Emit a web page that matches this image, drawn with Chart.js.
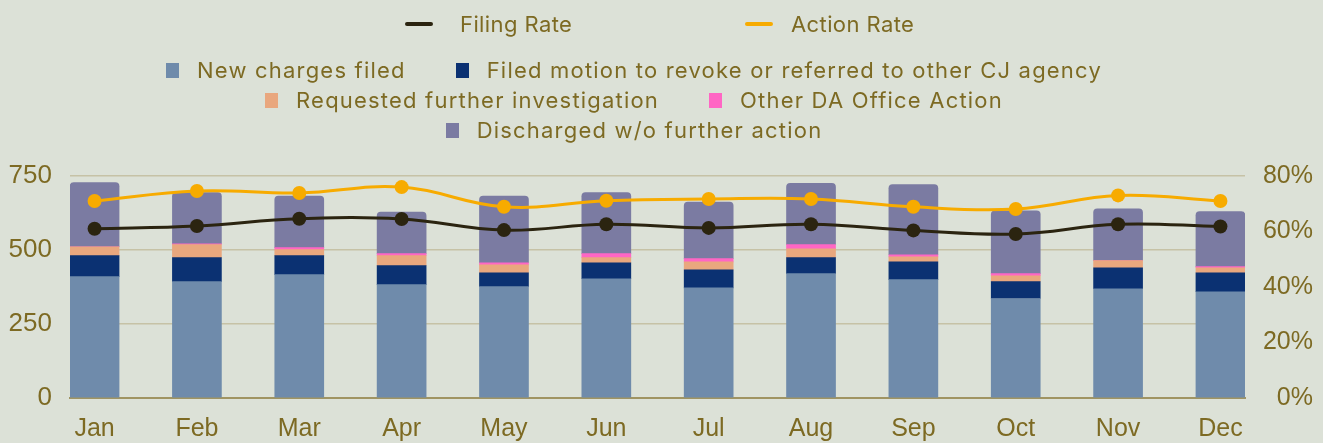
<!DOCTYPE html>
<html>
<head>
<meta charset="utf-8">
<script src="https://cdn.jsdelivr.net/npm/chart.js@4.4.1/dist/chart.umd.min.js"></script>
<style>
  html, body { margin: 0; padding: 0; background: #dce1d7; }
  #wrap { position: relative; width: 1323px; height: 443px; overflow: hidden; }
  #chart { position: absolute; left: 0; top: 0; }
  .row {
    position: absolute; height: 30px; line-height: 30px;
    display: flex; justify-content: center; align-items: center;
    font-family: Inter, "Noto Sans", sans-serif; font-size: 22px;
    letter-spacing: 1.2px; color: #7d6a23; white-space: nowrap;
  }
  .row.abs { display: block; letter-spacing: 0.4px; }
  .row.abs .item { position: absolute; top: 0; height: 30px; }
  .item { display: flex; align-items: center; }
  .sq { width: 13px; height: 15px; margin-right: 18px; }
  .ln { width: 28px; height: 4px; border-radius: 2px; }
</style>
</head>
<body>
<div id="wrap">
  <canvas id="chart" width="1323" height="443"></canvas>
  <div id="legend"></div>
</div>
<script>
// months
const months = ["Jan", "Feb", "Mar", "Apr", "May", "Jun", "Jul", "Aug", "Sep", "Oct", "Nov", "Dec"];

// bar series (cases)
const newCharges = [410, 393, 417, 383, 376, 403, 372, 420, 400, 336, 369, 359];
const motionRevoke = [71, 81, 64, 64, 47, 54, 61, 54, 60, 57, 71, 64];
const furtherInvestigation = [30, 44, 20, 34, 27, 17, 27, 30, 17, 20, 24, 17];
const otherAction = [0, 3, 7, 7, 7, 14, 11, 14, 7, 7, 0, 4];
const discharged = [217, 173, 174, 140, 225, 206, 191, 207, 237, 212, 175, 186];

// line series (percent)
const filingRate = [61.0, 62.0, 64.6, 64.5, 60.5, 62.6, 61.3, 62.6, 60.4, 59.1, 62.6, 61.8];
const actionRate = [71.0, 74.6, 73.9, 76.0, 68.9, 71.1, 71.7, 71.7, 68.9, 68.1, 73.0, 71.0];

// axis ticks
const countTicks = [0, 250, 500, 750];
const rateTicks = [0, 20, 40, 60, 80];

const textColor = "#7d6a23";
const gridColor = "#c6c2a6";

function pts(arr) {
  return arr.map((v, i) => ({ x: i, y: v }));
}

const barSets = [
  { label: "New charges filed", data: newCharges, color: "#6f8bab" },
  { label: "Filed motion to revoke or referred to other CJ agency", data: motionRevoke, color: "#0b3172" },
  { label: "Requested further investigation", data: furtherInvestigation, color: "#e9a77e" },
  { label: "Other DA Office Action", data: otherAction, color: "#ff66c4" },
  { label: "Discharged w/o further action", data: discharged, color: "#7b7ba2" }
];
const lineSets = [
  { label: "Filing Rate", data: filingRate, color: "#2b2410" },
  { label: "Action Rate", data: actionRate, color: "#f7ab00" }
];

const datasets = [];
lineSets.forEach((s) => {
  datasets.push({
    type: "line",
    label: s.label,
    data: pts(s.data),
    yAxisID: "y1",
    borderColor: s.color,
    backgroundColor: s.color,
    borderWidth: 3,
    pointRadius: 7,
    pointHoverRadius: 7,
    pointBorderWidth: 0,
    tension: 0.4,
    fill: false,
    order: 0
  });
});
barSets.forEach((s, i) => {
  const top = i === barSets.length - 1;
  datasets.push({
    type: "bar",
    label: s.label,
    data: pts(s.data),
    yAxisID: "y",
    backgroundColor: s.color,
    borderWidth: 0,
    barThickness: 49,
    stack: "cases",
    borderRadius: top ? { topLeft: 4, topRight: 4, bottomLeft: 0, bottomRight: 0 } : 0,
    borderSkipped: top ? "start" : true,
    order: 1
  });
});

new Chart(document.getElementById("chart"), {
  data: { datasets: datasets },
  options: {
    responsive: false,
    animation: false,
    devicePixelRatio: 1,
    layout: { padding: { top: 176, left: 0, right: 10, bottom: 0 } },
    plugins: { legend: { display: false }, tooltip: { enabled: false } },
    scales: {
      x: {
        type: "linear",
        min: -0.24,
        max: 11.24,
        bounds: "data",
        offset: false,
        stacked: true,
        grid: { display: false, drawTicks: false, offset: false },
        border: { display: true, color: "#a09462", width: 2 },
        afterBuildTicks: (s) => { s.ticks = months.map((m, i) => ({ value: i })); },
        ticks: {
          autoSkip: false,
          maxRotation: 0,
          padding: 16,
          color: textColor,
          font: { family: "'Liberation Sans', Arial, sans-serif", size: 25 },
          callback: (v) => months[Math.round(v)]
        },
        afterFit: (s) => { s.height = 45; }
      },
      y: {
        position: "left",
        stacked: true,
        min: countTicks[0],
        max: countTicks[countTicks.length - 1],
        grid: {
          color: (c) => (c.tick && c.tick.value === 0 ? "rgba(0,0,0,0)" : gridColor),
          lineWidth: 1.5,
          drawTicks: false
        },
        border: { display: false },
        afterBuildTicks: (s) => { s.ticks = countTicks.map((v) => ({ value: v })); },
        ticks: {
          padding: 18,
          color: textColor,
          font: { family: "'Liberation Sans', Arial, sans-serif", size: 26 }
        },
        afterFit: (s) => { s.width = 70; }
      },
      y1: {
        position: "right",
        min: rateTicks[0],
        max: rateTicks[rateTicks.length - 1],
        grid: { display: false, drawTicks: false },
        border: { display: false },
        afterBuildTicks: (s) => { s.ticks = rateTicks.map((v) => ({ value: v })); },
        ticks: {
          padding: 6,
          crossAlign: "far",
          color: textColor,
          font: { family: "'Liberation Sans', Arial, sans-serif", size: 25 },
          callback: (v) => v + "%"
        },
        afterFit: (s) => { s.width = 68; }
      }
    }
  }
});

// legend rows, built from the same series lists
const legend = document.getElementById("legend");
function makeItem(s, kind, gap) {
  const it = document.createElement("div");
  it.className = "item";
  const mk = document.createElement("span");
  mk.className = kind;
  mk.style.background = s.color;
  mk.style.marginRight = gap + "px";
  const tx = document.createElement("span");
  tx.textContent = s.label;
  it.appendChild(mk);
  it.appendChild(tx);
  return it;
}
function addRow(items, top, width, gap) {
  const row = document.createElement("div");
  row.className = "row";
  row.style.top = top + "px";
  row.style.left = "0px";
  row.style.width = width + "px";
  row.style.gap = gap + "px";
  items.forEach((s) => row.appendChild(makeItem(s, "sq", 18)));
  legend.appendChild(row);
}
// line legend: fixed slots
const lineRow = document.createElement("div");
lineRow.className = "row abs";
lineRow.style.top = "9px";
lineRow.style.left = "0px";
lineRow.style.width = "1323px";
const slots = [[405, 27], [745, 18]];
lineSets.forEach((s, i) => {
  const it = makeItem(s, "ln", slots[i][1]);
  it.style.left = slots[i][0] + "px";
  lineRow.appendChild(it);
});
legend.appendChild(lineRow);

addRow([barSets[0], barSets[1]], 55, 1268, 50);
addRow([barSets[2], barSets[3]], 85, 1268, 50);
addRow([barSets[4]], 115, 1268, 50);
</script>
</body>
</html>
